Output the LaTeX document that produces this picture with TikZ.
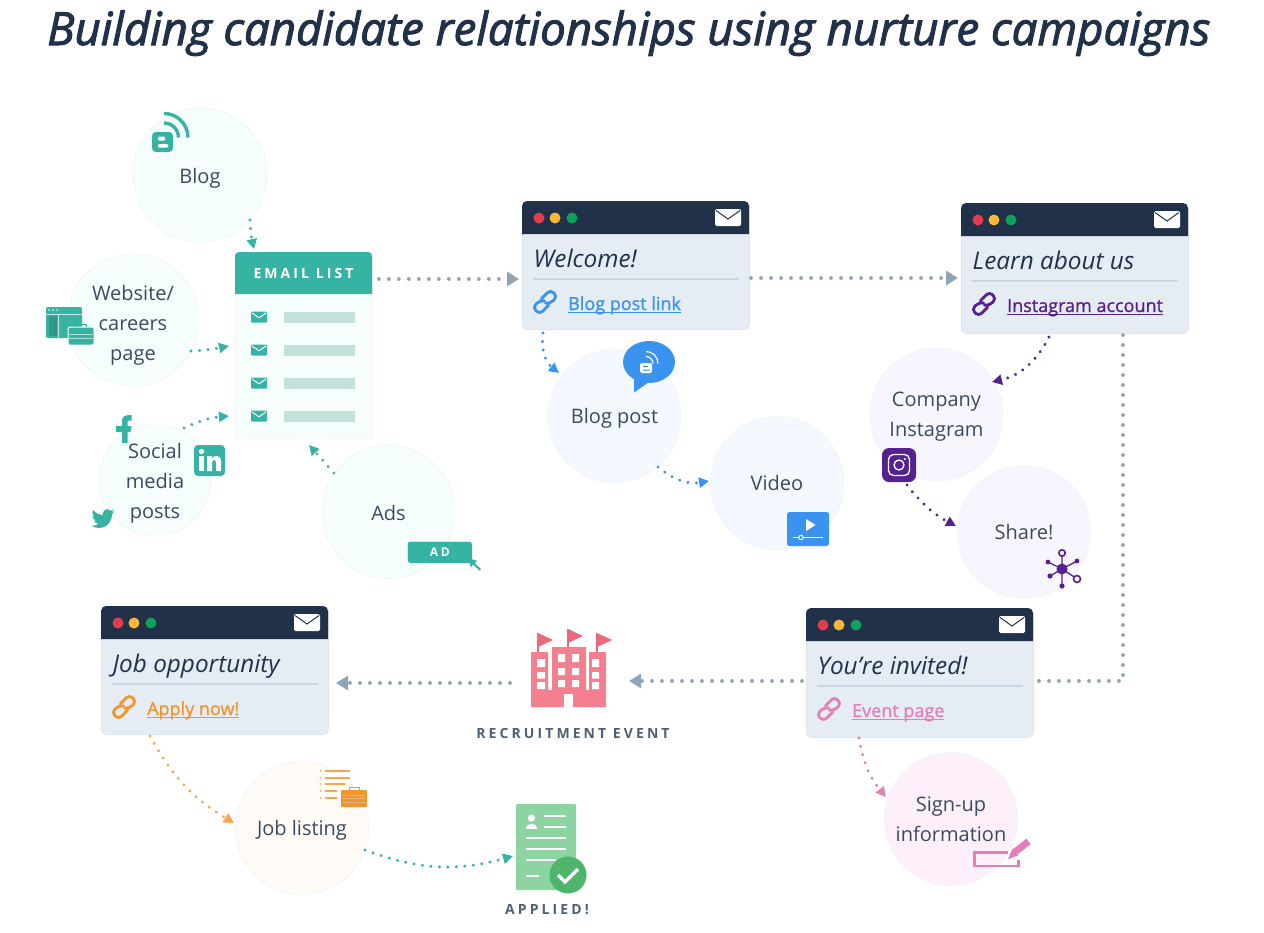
\documentclass[tikz,border=0pt]{standalone}
\usepackage{fontspec}
\usetikzlibrary{arrows.meta,shapes.geometric}
\setmainfont{Open Sans}
\newfontfamily\ttlf[FakeBold=2.2]{Open Sans}
\newfontfamily\semif[FakeBold=1.1]{Open Sans}
\newfontfamily\capsf[LetterSpace=22]{Open Sans}
\definecolor{navy}{HTML}{22314A}
\definecolor{winbody}{HTML}{E6ECF3}
\definecolor{winline}{HTML}{C9D6E2}
\definecolor{textc}{HTML}{3C4A5E}
\definecolor{capc}{HTML}{4E6072}
\definecolor{grayc}{HTML}{8FA5B5}
\definecolor{tealc}{HTML}{37B3A3}
\definecolor{bluec}{HTML}{3A93EE}
\definecolor{purpc}{HTML}{54218F}
\definecolor{pinkc}{HTML}{E07FB8}
\definecolor{orngc}{HTML}{F7A74A}
\definecolor{orntx}{HTML}{F0962C}
\definecolor{redd}{HTML}{E33C4E}
\definecolor{yeld}{HTML}{FBB838}
\definecolor{gred}{HTML}{0DA15D}
\definecolor{bars}{HTML}{C4E0DA}
\definecolor{bldg}{HTML}{F47F8E}
\definecolor{flagc}{HTML}{E86A7C}
\definecolor{docc}{HTML}{8DD4A2}
\definecolor{chkc}{HTML}{4FB56C}
\definecolor{ptl}{HTML}{F6FEFD}
\definecolor{pbl}{HTML}{F3F9FE}
\definecolor{ppu}{HTML}{F7F6FE}
\definecolor{ppk}{HTML}{FDF0FA}
\definecolor{por}{HTML}{FEFAF6}
\definecolor{edgec}{HTML}{F1F5F6}
\tikzset{
  x=1pt,y=-1pt,
  bubble/.style={circle,minimum size=#1,inner sep=0pt,align=center,draw=edgec,line width=.8pt,text=textc,
     font=\fontsize{20}{30}\selectfont},
  conn/.style={line width=3.6pt,line cap=round,dash pattern=on 0.1pt off 9.9pt,-{Triangle[length=12pt,width=14pt]}},
  conng/.style={conn,grayc},
  cdot/.style={line width=3.2pt,line cap=round,dash pattern=on 0.1pt off 8.4pt,-{Triangle[length=10pt,width=10pt]}},
  capl/.style={font=\capsf\bfseries\fontsize{14}{16}\selectfont,text=capc,inner sep=0pt},
}
\newcommand{\tpp}[1]{\rule{0pt}{#1pt}}
\newcommand{\lnk}[1]{\leavevmode\sbox0{#1}\rlap{\rule[-3.4pt]{\wd0}{1.2pt}}#1}
\newcommand{\linkicon}[4]{%
  \begin{scope}[shift={(#1,#2)},rotate=45,#3,line width=#4,rounded corners=4pt,line cap=round,line join=round]
    \draw (0.5,4.8) -- (-12.5,4.8) -- (-12.5,-4.8) -- (-2.5,-4.8) -- (0.5,-1);
    \draw (-0.5,-4.8) -- (12.5,-4.8) -- (12.5,4.8) -- (2.5,4.8) -- (-0.5,1);
  \end{scope}}
\newcommand{\window}[7]{%
  \begin{scope}[shift={(#2,#3)}]
    \node[rectangle,anchor=north west,minimum width=227pt,minimum height=#4pt,inner sep=0pt,fill=winbody,draw=winbody!70!winline,rounded corners=5pt,line width=.8pt] (#1) at (0,0) {};
    \fill[navy] (0,33) [rounded corners=5pt] -- (0,0) -- (227,0) [sharp corners] -- (227,33) -- cycle;
    \fill[redd] (17,17) circle[radius=5.5pt];
    \fill[yeld] (33,17) circle[radius=5.5pt];
    \fill[gred] (50,17) circle[radius=5.5pt];
    \fill[white!95!winbody,rounded corners=1.5pt] (193,8) rectangle (219,25);
    \draw[navy,line width=1pt] (194,9.5) -- (206,18) -- (218,9.5);
    \node[anchor=base west,inner sep=0pt,text=navy,font=\itshape\fontsize{24.3}{28}\selectfont] (#1t) at (11.5,66) {#5};
    \draw[winline,line width=1.2pt] (11,78) -- (217,78);
    \linkicon{23}{101}{#7}{2.8pt}
    \node[anchor=base west,inner sep=0pt,text=#7,font=\semif\fontsize{18}{20}\selectfont] (#1l) at (46,109) {\lnk{#6}};
  \end{scope}}
\begin{document}
\begin{tikzpicture}
\useasboundingbox (0,0) rectangle (1264,932);
\fill[white] (0,0) rectangle (1264,932);
\node[anchor=base west,inner sep=0pt,text=navy,font=\ttlf\itshape\fontsize{45.6}{50}\selectfont] (title) at (47,45) {Building candidate relationships using nurture campaigns};

% circles
\node[bubble=134pt,fill=ptl] (blog) at (200,175) {\tpp{21.2}Blog};
\node[bubble=132pt,fill=ptl] (website) at (133,320) {\tpp{25}Website/\\careers\\page};
\node[bubble=112pt,fill=ptl] (social) at (155,480) {\tpp{22.5}Social\\media\\posts};
\node[bubble=133pt,fill=ptl] (ads) at (388.5,512) {\tpp{16.5}Ads};
\node[bubble=133pt,fill=pbl] (blogpost) at (614.5,416) {\tpp{19.2}Blog post};
\node[bubble=133pt,fill=pbl] (video) at (777,483) {Video};
\node[bubble=133pt,fill=ppu] (company) at (936.5,414.5) {\tpp{18.5}Company\\Instagram};
\node[bubble=133pt,fill=ppu] (share) at (1024,532) {Share!};
\node[bubble=133pt,fill=ppk] (signup) at (951,819) {Sign-up\\information};
\node[bubble=133pt,fill=por] (joblist) at (302,828) {\tpp{19.5}Job listing};

% email list
\node[rectangle,anchor=north west,minimum width=137pt,minimum height=186pt,inner sep=0pt,fill=ptl,draw=edgec,line width=.8pt,rounded corners=4pt] (email) at (235,252) {};
\fill[tealc] (235,294) [rounded corners=4pt] -- (235,252) -- (372,252) [sharp corners] -- (372,294) -- cycle;
\node[font=\capsf\bfseries\fontsize{14}{16}\selectfont,text=white,inner sep=0pt] (emailt) at (303.5,273) {EMAIL LIST};
\foreach \yy in {317,350,383,416}{
  \fill[tealc,rounded corners=1pt] (251,\yy-5.5) rectangle (267,\yy+5.5);
  \draw[white,line width=1pt] (252,\yy-4) -- (259,\yy+.8) -- (266,\yy-4);
  \fill[bars] (284,\yy-5.5) rectangle (355,\yy+5.5);
}

% windows
\window{welcome}{522}{201}{128}{Welcome!}{Blog post link}{bluec}
\window{learn}{961}{203}{130}{Learn about us}{Instagram account}{purpc}
\window{invited}{806}{608}{129}{You’re invited!}{Event page}{pinkc}
\window{job}{101}{606}{128}{Job opportunity}{Apply now!}{orntx}

% --- icons: blog (teal)
\fill[tealc,rounded corners=4pt] (152,132) rectangle (173,152);
\fill[white,rounded corners=1pt] (158,136.5) rectangle (165,140.5);
\fill[white,rounded corners=1pt] (158,144) rectangle (168,147.5);
\draw[tealc,line width=3.4pt] (164,113.5) arc[start angle=90,end angle=0,radius=24pt];
\draw[tealc,line width=3.4pt] (164,123) arc[start angle=90,end angle=0,radius=14.5pt];
% website icon
\fill[tealc,rounded corners=2pt] (46,307) rectangle (82,338);
\fill[white,opacity=.9] (49,310) circle[radius=.8pt] (53,310) circle[radius=.8pt] (57,310) circle[radius=.8pt];
\draw[white!70!tealc,line width=.7pt] (46,314) -- (82,314) (58,314) -- (58,338);
\fill[tealc!85!black] (49,316) rectangle (57,336);
\fill[tealc,draw=white,line width=1pt,rounded corners=1.5pt] (68,327) rectangle (94,345);
\draw[tealc,line width=1pt] (76,327) -- (76,324.5) -- (86,324.5) -- (86,327);
\draw[white!60!tealc,line width=.6pt] (69,334) -- (93,334) (69,338) -- (93,338);
% facebook
\fill[tealc] (122,443) -- (122,432) -- (116,432) -- (116,426) -- (122,426) -- (122,421) .. controls (122,417) and (125,415) .. (128,415) -- (131.5,415) -- (131.5,420.5) -- (129,420.5) .. controls (127.5,420.5) and (127.5,421.5) .. (127.5,422.5) -- (127.5,426) -- (131.5,426) -- (130.5,432) -- (127.5,432) -- (127.5,443) -- cycle;
% linkedin
\fill[tealc,rounded corners=4pt] (194,445) rectangle (225,476);
\fill[white] (199,456) rectangle (204,471);
\fill[white] (201.5,451.5) circle[radius=2.7pt];
\fill[white] (207,456) -- (212,456) -- (212,458.5) .. controls (214,455) and (221,454.5) .. (221,461) -- (221,471) -- (216,471) -- (216,462.5) .. controls (216,458.5) and (212,459.5) .. (212,463) -- (212,471) -- (207,471) -- cycle;
% twitter
\begin{scope}[shift={(91.5,507)},scale=.96]
\fill[tealc] (23.95,4.57) .. controls (23.1,4.95) and (22.1,5.2) .. (21.13,5.34)
 .. controls (22.1,4.75) and (22.9,3.8) .. (23.29,2.62)
 .. controls (22.35,3.18) and (21.3,3.58) .. (20.17,3.8)
 .. controls (19.27,2.84) and (18,2.25) .. (16.58,2.25)
 .. controls (13.87,2.25) and (11.67,4.45) .. (11.67,7.17)
 .. controls (11.67,7.55) and (11.71,7.93) .. (11.79,8.28)
 .. controls (7.69,8.1) and (4.07,6.13) .. (1.64,3.16)
 .. controls (1.22,3.88) and (0.97,4.73) .. (0.97,5.64)
 .. controls (0.97,7.34) and (1.84,8.85) .. (3.16,9.74)
 .. controls (2.35,9.71) and (1.6,9.49) .. (0.93,9.12) -- (0.93,9.18)
 .. controls (0.93,11.56) and (2.63,13.55) .. (4.88,14.01)
 .. controls (4.2,14.2) and (3.4,14.25) .. (2.67,14.09)
 .. controls (3.3,16.05) and (5.1,17.47) .. (7.27,17.51)
 .. controls (5.58,18.82) and (2.5,19.8) .. (0,19.54)
 .. controls (2.19,20.94) and (4.77,21.75) .. (7.56,21.75)
 .. controls (16.61,21.75) and (21.56,14.25) .. (21.56,7.77)
 .. controls (21.56,7.56) and (21.56,7.35) .. (21.54,7.14)
 .. controls (22.5,6.45) and (23.34,5.59) .. (23.95,4.57) -- cycle;
\end{scope}
% AD tag
\node[rectangle,anchor=north west,minimum width=65pt,minimum height=22pt,inner sep=0pt,fill=tealc,rounded corners=3pt,draw=white,line width=.5pt,text=white,font=\capsf\bfseries\fontsize{12}{14}\selectfont] (adtag) at (407,541) {AD};
\fill[tealc] (468,558) -- (477.5,561) -- (474.5,563) -- (481,569) -- (479.5,570.5) -- (473,564.5) -- (471,567.5) -- cycle;
% blog bubble (blue)
\fill[bluec] (649,362) ellipse[x radius=26pt,y radius=21pt];
\fill[bluec] (634,375) -- (634,392.5) -- (652,380) -- cycle;
\fill[white,rounded corners=1.5pt] (640,363) rectangle (652,373);
\fill[bluec] (643,366) rectangle (648,367) (643,369.5) rectangle (650,370.5);
\draw[white,line width=1.2pt] (646,351.5) arc[start angle=90,end angle=0,radius=12pt];
\draw[white,line width=1.2pt] (646,356.5) arc[start angle=90,end angle=0,radius=7pt];
% video icon
\fill[bluec,rounded corners=2.5pt] (787,512) rectangle (829,546);
\fill[white] (806,519) -- (815.5,525) -- (806,531) -- cycle;
\draw[white,line width=1.2pt] (793,537.5) -- (823,537.5);
\draw[white,fill=bluec,line width=1pt] (801,537.5) circle[radius=2.2pt];
% instagram
\node[rectangle,rounded corners=7pt,minimum size=34pt,inner sep=0pt,fill=purpc] (insta) at (899,465) {};
\draw[white,line width=1.3pt,rounded corners=5pt] (888.5,454.5) rectangle (909.5,475.5);
\draw[white,line width=1.3pt] (899,465) circle[radius=5pt];
\fill[white] (905,459) circle[radius=1.2pt];
% network
\begin{scope}[purpc,line width=1.3pt]
\draw (1062,569) -- (1062,555) (1062,569) -- (1077,561) (1062,569) -- (1075,577.5) (1062,569) -- (1062,586) (1062,569) -- (1050,576) (1062,569) -- (1048,562);
\fill (1062,569) circle[radius=5.5pt];
\draw[fill=white,line width=1.6pt] (1062,553) circle[radius=3.2pt] (1077,579) circle[radius=3.5pt];
\fill (1077,561) circle[radius=2.4pt] (1062,586) circle[radius=2.6pt] (1050,576) circle[radius=2.6pt] (1048,562) circle[radius=2.4pt];
\end{scope}
% pencil and field
\draw[pinkc,line width=2.4pt] (1008,852.5) -- (974.5,852.5) -- (974.5,866) -- (1018.5,866) -- (1018.5,860);
\draw[pinkc,line width=7pt] (1015,852) -- (1028.5,841.5);
\fill[pinkc] (1008,859) -- (1012.5,848.5) -- (1018,855.5) -- cycle;
% building
\node[rectangle,minimum width=76pt,minimum height=77pt,inner sep=0pt] (building) at (569,668.5) {};
\begin{scope}
\draw[flagc,line width=1.6pt] (538,633) -- (538,652) (568,629) -- (568,647) (597,633) -- (597,652);
\fill[flagc] (538,633) -- (553,640) -- (538,647) -- cycle (568,629) -- (583,636) -- (568,643) -- cycle (597,633) -- (612,640) -- (597,647) -- cycle;
\fill[bldg] (531,652) rectangle (548,707) (552,647) rectangle (586,707) (589,652) rectangle (606,707);
\fill[bldg] (548,690) rectangle (552,707) (586,690) rectangle (589,707);
\fill[white] (537,659) rectangle (545,667) (537,672) rectangle (545,678.5) (537,682) rectangle (545,689);
\fill[white] (558,654) rectangle (565,662) (572,654) rectangle (579,662) (558,668) rectangle (565,675) (572,668) rectangle (579,675) (558,680) rectangle (565,687) (572,680) rectangle (579,687);
\fill[white] (592,659) rectangle (599,667) (592,672) rectangle (599,678.5) (592,682) rectangle (599,689);
\fill[white] (564,694) rectangle (573,707);
\end{scope}
\node[capl] (eventl) at (573,733) {RECRUITMENT EVENT};
% listing icon
\begin{scope}[orngc,line width=1.3pt]
\draw (325,771) -- (350,771) (325,778) -- (350,778) (325,784) -- (345,784) (325,791) -- (337,791) (325,798) -- (337,798);
\fill (320.5,771) circle[radius=.9pt] (320.5,778) circle[radius=.9pt] (320.5,784) circle[radius=.9pt] (320.5,791) circle[radius=.9pt] (320.5,798) circle[radius=.9pt];
\end{scope}
\fill[orntx,rounded corners=1pt] (341,790) rectangle (367,807);
\draw[orntx,line width=1pt] (349,790) -- (349,787) -- (359,787) -- (359,790);
\draw[white!50!orntx!90!black,line width=.7pt] (343,795) -- (365,795) (343,798.5) -- (365,798.5) (343,802) -- (365,802);
% applied doc
\node[rectangle,anchor=north west,minimum width=60pt,minimum height=86pt,inner sep=0pt,fill=docc,rounded corners=1pt] (doc) at (516,804) {};
\fill[white] (531.5,818) circle[radius=3.6pt];
\fill[white] (526,829) .. controls (526,822) and (537,822) .. (537,829) -- cycle;
\draw[white,line width=2pt] (544,816) -- (566,816) (544,827) -- (566,827) (526,838) -- (566,838) (526,849) -- (566,849) (526,860) -- (556,860) (526,876) -- (539,876);
\fill[chkc] (568,875) circle[radius=18.5pt];
\draw[white,line width=3.5pt] (558,875) -- (565,882) -- (578,869);
\node[capl] (appliedl) at (547,909.5) {APPLIED!};

% connectors
\draw[conng] ([shift={(6,27)}]email.north east) -- ([shift={(-3,78)}]welcome.north west);
\draw[conng] ([shift={(229,77)}]welcome.north west) -- ([shift={(-3,75)}]learn.north west);
\draw[grayc,line width=3.6pt,line cap=round,dash pattern=on 0.1pt off 9.9pt] ([shift={(162,132)}]learn.north west) |- ([shift={(231,73)}]invited.north west);
\draw[conng] ([shift={(-4,73)}]invited.north west) -- ([shift={(60,12.5)}]building.center);
\draw[conng] ([shift={(-59,14.5)}]building.center) -- ([shift={(235,77)}]job.north west);

\draw[cdot,tealc] ([shift={(50,45)}]blog.center) to[bend right=5] ([shift={(19,-3)}]email.north west);
\draw[cdot,tealc] ([shift={(58,31)}]website.center) to[bend right=4] ([shift={(-6,94)}]email.north west);
\draw[cdot,tealc] ([shift={(29,-52)}]social.center) to[bend left=10] ([shift={(-6,164)}]email.north west);
\draw[cdot,tealc] ([shift={(-54.5,-39)}]ads.center) -- ([shift={(74,193)}]email.north west);
\draw[cdot,bluec] ([shift={(21,132)}]welcome.north west) to[bend right=30] ([shift={(-55.5,-43)}]blogpost.center);
\draw[cdot,bluec] ([shift={(43.5,51)}]blogpost.center) to[bend right=25] ([shift={(-68,-2)}]video.center);
\draw[cdot,purpc] ([shift={(88,134)}]learn.north west) to[bend left=25] ([shift={(55.5,-32.5)}]company.center);
\draw[cdot,purpc] ([shift={(8,20)}]insta.center) to[bend right=12] ([shift={(-68,-6)}]share.center);
\draw[cdot,pinkc] ([shift={(53,130)}]invited.north west) to[bend right=15] ([shift={(-65,-22)}]signup.center);
\draw[cdot,orngc] ([shift={(49,130)}]job.north west) to[bend right=15] ([shift={(-68,-5)}]joblist.center);
\draw[cdot,tealc] ([shift={(63,22)}]joblist.center) to[bend right=18] ([shift={(-3,52)}]doc.north west);
\end{tikzpicture}
\end{document}
